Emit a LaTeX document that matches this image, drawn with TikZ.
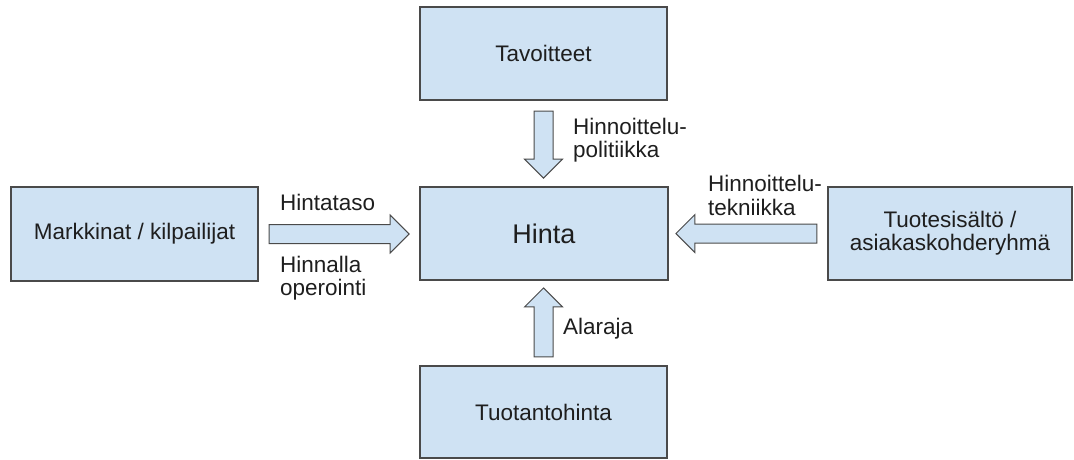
\documentclass[tikz,border=0pt]{standalone}
\usepackage{fontspec}
\setmainfont{Liberation Sans}
\usetikzlibrary{shapes.arrows,calc}
\definecolor{boxfill}{HTML}{CFE2F3}
\definecolor{boxline}{HTML}{4A4A4A}
\definecolor{txt}{HTML}{1E1E1E}
\begin{document}
\begin{tikzpicture}[x=1pt,y=-1pt,
  box/.style={draw=boxline,fill=boxfill,line width=1.1pt,inner sep=0pt,align=center,
    text=txt,font=\fontsize{22.5}{23}\selectfont},
  barrow/.style={single arrow,draw=boxline,fill=boxfill,line width=1pt,inner xsep=0pt,inner ysep=9pt,
    single arrow head extend=9.5pt,single arrow tip angle=90,anchor=tail},
  lbl/.style={text=txt,font=\fontsize{22.5}{23}\selectfont,align=left,inner sep=0pt,anchor=base west}]
\useasboundingbox (0,0) rectangle (1074,459);
\node[box,minimum width=247pt,minimum height=93pt] (tav) at (543.5,53.5) {Tavoitteet};
\node[box,minimum width=248pt,minimum height=93pt,font=\fontsize{27}{30}\selectfont] (hinta) at (544,233.5) {Hinta};
\node[box,minimum width=247pt,minimum height=94pt] (mark) at (134.5,234) {Markkinat / kilpailijat};
\node[box,minimum width=244pt,minimum height=93pt] (tuote) at (950,233.5) {Tuotesisältö /\\asiakaskohderyhmä};
\node[box,minimum width=247pt,minimum height=92pt] (tuot) at (543.5,412) {Tuotantohinta};
% block arrows, each starting just off its source box
\node[barrow,minimum height=67pt,rotate=-90] (a1) at ($(tav.south)+(0,10)$) {};
\node[barrow,minimum height=69pt,rotate=90] (a2) at ($(tuot.north)+(0,-8)$) {};
\node[barrow,minimum height=140pt] (a3) at ($(mark.east)+(10,0)$) {};
\node[barrow,minimum height=141pt,rotate=180] (a4) at ($(tuote.west)+(-10,0)$) {};
% labels (base anchor = baseline of last line)
\node[lbl] (l1) at (573,157) {Hinnoittelu-\\politiikka};
\node[lbl] (l2) at (280,210) {Hintataso};
\node[lbl] (l3) at (280,295) {Hinnalla\\operointi};
\node[lbl,font=\fontsize{22.5}{24}\selectfont] (l4) at (708,215) {Hinnoittelu-\\tekniikka};
\node[lbl] (l5) at (563,334) {Alaraja};
\end{tikzpicture}
\end{document}
